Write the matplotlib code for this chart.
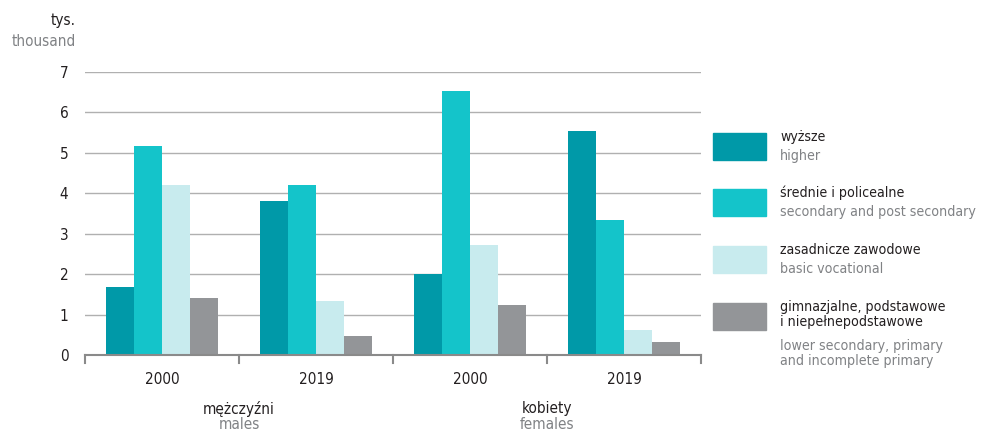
import numpy as np
import matplotlib.pyplot as plt
from matplotlib.patches import Rectangle
from matplotlib.lines import Line2D

plt.rcParams['font.family'] = ['DejaVu Sans']
plt.rcParams['font.stretch'] = 'condensed'

# data (thousand persons)
groups = ['mężczyźni', 'kobiety']
groups_en = ['males', 'females']
years = ['2000', '2019', '2000', '2019']
series_pl = ['wyższe', 'średnie i policealne', 'zasadnicze zawodowe',
             'gimnazjalne, podstawowe\ni niepełnepodstawowe']
series_en = ['higher', 'secondary and post secondary', 'basic vocational',
             'lower secondary, primary\nand incomplete primary']
higher = [1.68, 3.80, 2.00, 5.54]
secondary = [5.16, 4.20, 6.52, 3.34]
vocational = [4.20, 1.33, 2.72, 0.62]
lower = [1.41, 0.47, 1.24, 0.32]
colors = ['#0099A8', '#14C4CA', '#C8EBEE', '#939598']

DARK = '#231F20'
GREY = '#808285'
FS = 11
LFS = 10.2

fig = plt.figure(figsize=(9.82, 4.34), dpi=100)
ax = fig.add_axes([85 / 982, 1 - 355 / 434, 616 / 982, 283 / 434])

x = np.arange(len(years))
w = 0.182
for i, vals in enumerate([higher, secondary, vocational, lower]):
    ax.bar(x + (i - 1.5) * w, vals, width=w, color=colors[i], zorder=3)

ax.set_xlim(-0.5, len(years) - 0.5)
ax.set_ylim(0, 7)
ax.set_yticks(range(8))
ax.yaxis.grid(True, color='#B0B0B0', linewidth=1.0, zorder=0)
ax.tick_params(axis='y', length=0, labelsize=FS, labelcolor=DARK, pad=12)
ax.tick_params(axis='x', length=0, labelsize=FS, labelcolor=DARK, pad=12)
ax.set_xticks(x)
ax.set_xticklabels(years)
for s in ['top', 'right', 'left']:
    ax.spines[s].set_visible(False)
ax.spines['bottom'].set_color('#8A8A8A')
ax.spines['bottom'].set_linewidth(1.5)
ax.spines['bottom'].set_zorder(4)

# group separator ticks
for b in np.arange(-0.5, len(years), 1.0):
    ax.add_line(Line2D([b, b], [0, -0.2], color='#8A8A8A', linewidth=1.5,
                       clip_on=False))

# group labels
for k, (pl, en) in enumerate(zip(groups, groups_en)):
    xc = 2 * k + 0.5
    ax.text(xc, -1.33, pl, ha='center', va='center', fontsize=FS, color=DARK)
    ax.text(xc, -1.73, en, ha='center', va='center', fontsize=FS, color=GREY)

# unit label
fig.text(76 / 982, 1 - 20 / 434, 'tys.', ha='right', va='center',
         fontsize=FS, color=DARK)
fig.text(76 / 982, 1 - 42 / 434, 'thousand', ha='right', va='center',
         fontsize=FS, color=GREY)

# legend
tops = [133, 189, 246, 303]
for i in range(4):
    t = tops[i]
    fig.add_artist(Rectangle((713 / 982, 1 - (t + 27) / 434), 53 / 982, 27 / 434,
                             color=colors[i], transform=fig.transFigure))
    n_pl = series_pl[i].count('\n') + 1
    fig.text(780 / 982, 1 - (t - 3) / 434, series_pl[i], ha='left', va='top',
             fontsize=LFS, color=DARK, linespacing=1.05)
    fig.text(780 / 982, 1 - (t - 2 + 18 * n_pl + 2 * (n_pl - 1)) / 434,
             series_en[i], ha='left', va='top', fontsize=LFS, color=GREY,
             linespacing=1.05)

fig.savefig('out.png', dpi=100)
